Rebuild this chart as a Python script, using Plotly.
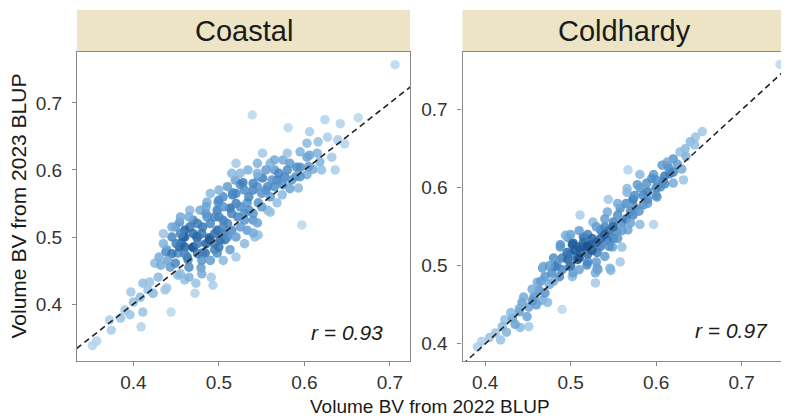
import numpy as np
import plotly.graph_objects as go

# ---------------- data ----------------
panels = ["Coastal", "Coldhardy"]
r_labels = ["r = 0.93", "r = 0.97"]
tick_vals = [0.4, 0.5, 0.6, 0.7]
tick_text = ["0.4", "0.5", "0.6", "0.7"]

coastal_x = [0.352, 0.357, 0.374, 0.372, 0.385, 0.390, 0.396, 0.409, 0.411, 0.400, 0.397, 0.408, 0.417, 0.419,
             0.411, 0.437, 0.444, 0.429, 0.425, 0.438, 0.432, 0.443, 0.452, 0.460, 0.472, 0.473, 0.491, 0.493,
             0.452, 0.464, 0.479, 0.449, 0.456, 0.470, 0.484, 0.495, 0.502, 0.460, 0.475, 0.489, 0.423, 0.439,
             0.551, 0.534, 0.575, 0.583, 0.595, 0.603, 0.603, 0.593, 0.597, 0.551, 0.568, 0.519, 0.525, 0.540,
             0.505, 0.516, 0.560, 0.574, 0.486, 0.499, 0.533, 0.546, 0.466, 0.478, 0.498, 0.513, 0.557, 0.486,
             0.505, 0.522, 0.540, 0.454, 0.449, 0.466, 0.481, 0.498, 0.515, 0.533, 0.542, 0.458, 0.474, 0.489,
             0.507, 0.439, 0.454, 0.470, 0.481, 0.498, 0.513, 0.463, 0.516, 0.528, 0.545, 0.546, 0.540, 0.560,
             0.568, 0.557, 0.575,
             0.706, 0.539, 0.581, 0.606, 0.624, 0.642, 0.663, 0.627, 0.647, 0.616, 0.639, 0.595, 0.606, 0.632,
             0.618, 0.591, 0.610, 0.636, 0.546, 0.562, 0.577, 0.603, 0.583,
             0.470, 0.480, 0.490, 0.500, 0.510, 0.520, 0.530, 0.495, 0.485, 0.460, 0.475, 0.505, 0.525, 0.535,
             0.545, 0.555, 0.565, 0.580, 0.590, 0.560, 0.545, 0.500, 0.490, 0.515, 0.520, 0.455, 0.445, 0.435,
             0.445, 0.465, 0.480, 0.505, 0.520, 0.530, 0.460,
             0.455, 0.465, 0.475, 0.485, 0.495, 0.505, 0.515, 0.525, 0.535, 0.495, 0.505, 0.485, 0.470, 0.460,
             0.475, 0.490, 0.500, 0.510, 0.520, 0.530, 0.540, 0.550, 0.550, 0.540, 0.530, 0.520, 0.510, 0.500,
             0.565, 0.570, 0.585, 0.595, 0.605, 0.615, 0.620, 0.580, 0.565, 0.555, 0.545, 0.525, 0.450, 0.440,
             0.430, 0.455, 0.480, 0.465, 0.445, 0.435]
coastal_y = [0.338, 0.345, 0.361, 0.376, 0.379, 0.391, 0.384, 0.366, 0.388, 0.403, 0.418, 0.410, 0.421, 0.433,
             0.431, 0.421, 0.388, 0.440, 0.461, 0.478, 0.458, 0.455, 0.443, 0.436, 0.416, 0.431, 0.440, 0.428,
             0.476, 0.466, 0.454, 0.461, 0.491, 0.485, 0.476, 0.481, 0.496, 0.500, 0.500, 0.499, 0.416, 0.424,
             0.625, 0.600, 0.615, 0.610, 0.604, 0.619, 0.640, 0.573, 0.518, 0.588, 0.585, 0.585, 0.578, 0.570,
             0.560, 0.563, 0.560, 0.563, 0.552, 0.552, 0.551, 0.551, 0.540, 0.540, 0.540, 0.543, 0.540, 0.530,
             0.525, 0.530, 0.525, 0.522, 0.515, 0.515, 0.515, 0.510, 0.510, 0.510, 0.500, 0.500, 0.500, 0.496,
             0.496, 0.481, 0.485, 0.484, 0.476, 0.476, 0.481, 0.470, 0.566, 0.581, 0.521, 0.503, 0.506, 0.537,
             0.551, 0.575, 0.578,
             0.757, 0.682, 0.663, 0.657, 0.675, 0.669, 0.678, 0.649, 0.639, 0.642, 0.645, 0.627, 0.622, 0.619,
             0.612, 0.604, 0.601, 0.600, 0.590, 0.585, 0.590, 0.593, 0.572,
             0.525, 0.505, 0.520, 0.530, 0.520, 0.550, 0.535, 0.490, 0.535, 0.510, 0.490, 0.505, 0.515, 0.560,
             0.575, 0.570, 0.600, 0.600, 0.590, 0.610, 0.610, 0.570, 0.565, 0.595, 0.610, 0.530, 0.500, 0.490,
             0.475, 0.455, 0.465, 0.465, 0.470, 0.490, 0.485,
             0.505, 0.530, 0.520, 0.545, 0.530, 0.545, 0.535, 0.545, 0.540, 0.505, 0.515, 0.490, 0.505, 0.475,
             0.475, 0.465, 0.485, 0.500, 0.500, 0.525, 0.535, 0.545, 0.565, 0.580, 0.570, 0.565, 0.575, 0.555,
             0.575, 0.595, 0.585, 0.590, 0.605, 0.625, 0.600, 0.625, 0.615, 0.600, 0.595, 0.595, 0.490, 0.465,
             0.470, 0.445, 0.445, 0.440, 0.515, 0.505]

coldhardy_x = [0.391, 0.396, 0.405, 0.412, 0.418, 0.423, 0.420, 0.432, 0.441, 0.451, 0.440, 0.443, 0.451, 0.449,
               0.457, 0.467, 0.473, 0.463, 0.461, 0.475, 0.470, 0.467, 0.478, 0.490, 0.487, 0.484, 0.490, 0.502,
               0.499, 0.529, 0.529, 0.496, 0.508, 0.488, 0.510, 0.523, 0.502, 0.547, 0.531, 0.497, 0.560, 0.581,
               0.544,
               0.567, 0.613, 0.620, 0.597, 0.589, 0.581, 0.605, 0.601, 0.566, 0.573, 0.585, 0.558, 0.573, 0.543,
               0.511, 0.526, 0.550, 0.597, 0.535, 0.554, 0.567, 0.494, 0.515, 0.503, 0.543, 0.549, 0.488, 0.511,
               0.531, 0.540, 0.558, 0.546, 0.497, 0.482, 0.468, 0.519, 0.532, 0.503,
               0.745, 0.654, 0.646, 0.640, 0.634, 0.628, 0.620, 0.613, 0.607, 0.630, 0.581, 0.595, 0.616, 0.608,
               0.578, 0.566, 0.632,
               0.520, 0.530, 0.540, 0.525, 0.535, 0.550, 0.545, 0.560, 0.570, 0.555, 0.575, 0.590, 0.585, 0.600,
               0.510, 0.520, 0.500, 0.515, 0.530, 0.480, 0.455, 0.445, 0.430, 0.470, 0.460, 0.590, 0.610, 0.625,
               0.565, 0.540,
               0.505, 0.515, 0.525, 0.535, 0.545, 0.555, 0.550, 0.560, 0.565, 0.575, 0.580, 0.590, 0.600, 0.610,
               0.615, 0.620, 0.500, 0.490, 0.510, 0.520, 0.480, 0.475, 0.465, 0.455, 0.440, 0.435, 0.425, 0.540,
               0.530, 0.520, 0.570, 0.555, 0.500, 0.510, 0.600, 0.635, 0.645]
coldhardy_y = [0.396, 0.403, 0.408, 0.414, 0.405, 0.431, 0.422, 0.433, 0.421, 0.422, 0.441, 0.453, 0.447, 0.435,
               0.460, 0.456, 0.453, 0.469, 0.479, 0.476, 0.486, 0.497, 0.491, 0.444, 0.486, 0.501, 0.510, 0.486,
               0.499, 0.478, 0.491, 0.517, 0.508, 0.527, 0.524, 0.527, 0.527, 0.494, 0.497, 0.536, 0.524, 0.553,
               0.585,
               0.623, 0.629, 0.606, 0.617, 0.606, 0.600, 0.601, 0.588, 0.594, 0.585, 0.578, 0.574, 0.565, 0.569,
               0.565, 0.556, 0.556, 0.553, 0.546, 0.544, 0.546, 0.539, 0.537, 0.529, 0.533, 0.524, 0.524, 0.517,
               0.517, 0.512, 0.505, 0.497, 0.508, 0.499, 0.499, 0.501, 0.495, 0.491,
               0.758, 0.672, 0.665, 0.659, 0.650, 0.646, 0.637, 0.633, 0.629, 0.624, 0.617, 0.612, 0.618, 0.608,
               0.604, 0.599, 0.610,
               0.540, 0.550, 0.550, 0.535, 0.525, 0.535, 0.545, 0.555, 0.570, 0.565, 0.590, 0.595, 0.590, 0.600,
               0.510, 0.515, 0.515, 0.525, 0.505, 0.480, 0.470, 0.460, 0.440, 0.465, 0.450, 0.580, 0.615, 0.630,
               0.580, 0.560,
               0.520, 0.530, 0.520, 0.535, 0.525, 0.535, 0.550, 0.545, 0.560, 0.575, 0.570, 0.585, 0.610, 0.605,
               0.625, 0.620, 0.500, 0.495, 0.495, 0.505, 0.510, 0.500, 0.480, 0.455, 0.445, 0.425, 0.415, 0.540,
               0.530, 0.525, 0.555, 0.580, 0.540, 0.545, 0.590, 0.640, 0.655]

# ---------------- layout geometry ----------------
# the page body has an 8px margin, so the figure is placed at (8, 8)
OFF = 8
W, H = 789 - OFF, 419 - OFF

def fx(px):
    return (px - OFF) / W

def fy(py):
    return (H - (py - OFF)) / H

x_ranges = [[0.334, 0.7235], [0.3735, 0.7525]]
y_ranges = [[0.315, 0.776], [0.378, 0.774]]
x_domains = [[fx(77), fx(410)], [fx(462.5), fx(786.5)]]
y_domain = [fy(361), fy(52)]
strip_top = fy(10)

def local_density(xs, ys, xr, yr, dom_w, dom_h, rad=16.0):
    xs = np.asarray(xs); ys = np.asarray(ys)
    px = (xs - xr[0]) / (xr[1] - xr[0]) * dom_w
    py = (ys - yr[0]) / (yr[1] - yr[0]) * dom_h
    d = np.sqrt((px[:, None] - px[None, :]) ** 2 + (py[:, None] - py[None, :]) ** 2)
    return (d < rad).sum(axis=1).astype(float)

blues = [[0.0, "#b9d7ee"], [0.3, "#8bbbe0"], [0.65, "#4a8bc6"], [1.0, "#15518f"]]

fig = go.Figure()
series = [(coastal_x, coastal_y), (coldhardy_x, coldhardy_y)]
for i, (xs, ys) in enumerate(series):
    dw = (x_domains[i][1] - x_domains[i][0]) * W
    dh = (y_domain[1] - y_domain[0]) * H
    dens = local_density(xs, ys, x_ranges[i], y_ranges[i], dw, dh)
    ax = "" if i == 0 else "2"
    fig.add_trace(go.Scatter(
        x=xs, y=ys, mode="markers", xaxis="x" + ax, yaxis="y" + ax,
        marker=dict(size=9.5, color=dens, colorscale=blues, cmin=1, cmax=dens.max(),
                    opacity=0.85, line=dict(width=0)),
        showlegend=False, hoverinfo="skip"))
    lo = min(x_ranges[i][0], y_ranges[i][0])
    hi = max(x_ranges[i][1], y_ranges[i][1])
    fig.add_trace(go.Scatter(
        x=[lo, hi], y=[lo, hi], mode="lines", xaxis="x" + ax, yaxis="y" + ax,
        line=dict(color="#222222", width=1.6, dash="6px,4px"),
        showlegend=False, hoverinfo="skip", cliponaxis=True))

axis_common = dict(showgrid=False, zeroline=False, showline=True, mirror=True,
                   linecolor="#8a8a8a", linewidth=1.2, ticks="outside", ticklen=4,
                   tickcolor="#8a8a8a", tickwidth=1, tickvals=tick_vals, ticktext=tick_text,
                   tickfont=dict(family="Liberation Sans, Arial", size=19, color="#333333"))

layout = dict(width=W, height=H, margin=dict(l=0, r=0, t=0, b=0),
              plot_bgcolor="white", paper_bgcolor="white", showlegend=False)
for i in range(2):
    ax = "" if i == 0 else "2"
    layout["xaxis" + ax] = dict(axis_common, domain=x_domains[i], range=x_ranges[i],
                                anchor="y" + ax)
    layout["yaxis" + ax] = dict(axis_common, domain=y_domain, range=y_ranges[i],
                                anchor="x" + ax, ticklabelstandoff=6)
fig.update_layout(**layout)

shapes = []
annotations = []
for i in range(2):
    shapes.append(dict(type="rect", xref="paper", yref="paper",
                       x0=x_domains[i][0], x1=x_domains[i][1] if i == 0 else 1.0,
                       y0=y_domain[1], y1=strip_top,
                       fillcolor="#ece4c4", line=dict(width=0), layer="below"))
    annotations.append(dict(xref="paper", yref="paper",
                            x=(x_domains[i][0] + x_domains[i][1]) / 2,
                            y=(y_domain[1] + strip_top) / 2,
                            text=panels[i], showarrow=False,
                            font=dict(family="Liberation Sans, Arial", size=29, color="#1a1a1a"),
                            xanchor="center", yanchor="middle"))
ax_names = [("x", "y"), ("x2", "y2")]
r_pos = [(0.694, 0.357), (0.733, 0.417)]
for i in range(2):
    annotations.append(dict(xref=ax_names[i][0], yref=ax_names[i][1],
                            x=r_pos[i][0], y=r_pos[i][1], text="<i>" + r_labels[i] + "</i>",
                            showarrow=False, xanchor="right", yanchor="middle",
                            font=dict(family="Liberation Sans, Arial", size=21, color="#1a1a1a")))
annotations.append(dict(xref="paper", yref="paper", x=fx(430), y=fy(406),
                        text="Volume BV from 2022 BLUP", showarrow=False,
                        xanchor="center", yanchor="middle",
                        font=dict(family="Liberation Sans, Arial", size=19, color="#1a1a1a")))
annotations.append(dict(xref="paper", yref="paper", x=fx(18), y=(y_domain[0] + y_domain[1]) / 2,
                        text="Volume BV from 2023 BLUP", showarrow=False, textangle=-90,
                        xanchor="center", yanchor="middle",
                        font=dict(family="Liberation Sans, Arial", size=21, color="#1a1a1a")))
fig.update_layout(shapes=shapes, annotations=annotations)

fig.write_html("out.html")
